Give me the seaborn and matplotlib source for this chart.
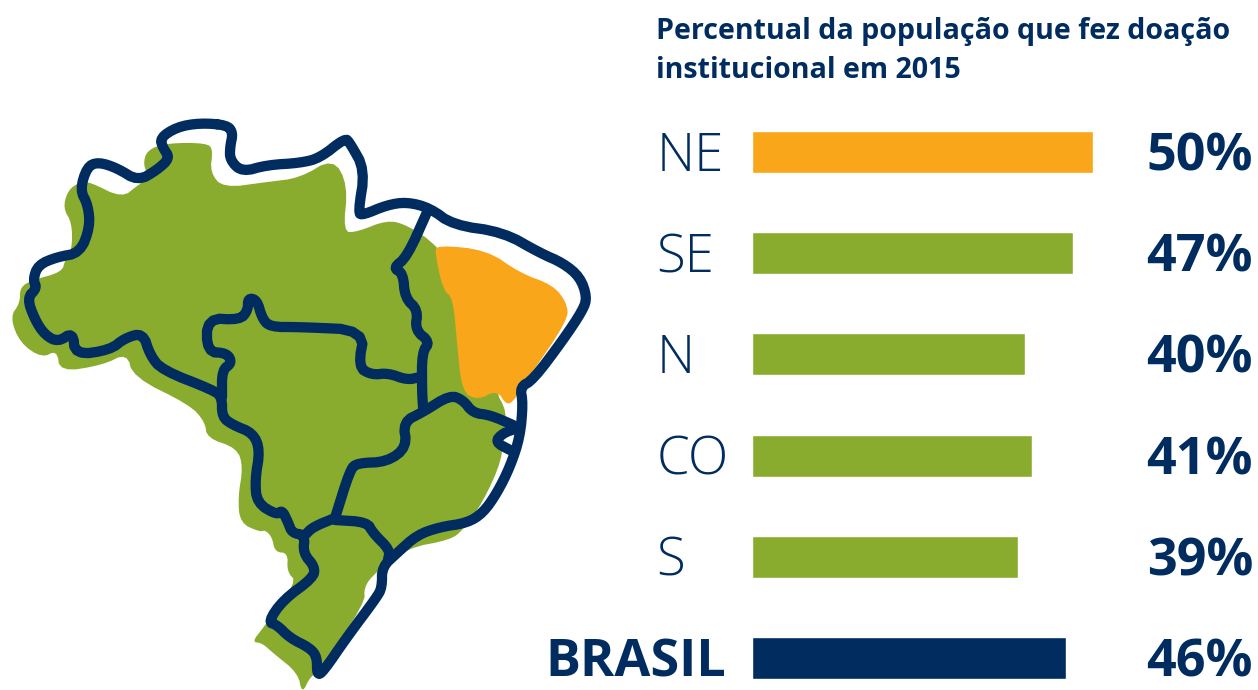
import numpy as np
import seaborn as sns
import matplotlib.pyplot as plt

# dados do grafico
regioes = ['NE', 'SE', 'N', 'CO', 'S', 'BRASIL']
valores = [50, 47, 40, 41, 39, 46]
rotulos = ['50%', '47%', '40%', '41%', '39%', '46%']
titulo = 'Percentual da população que fez doação\ninstitucional em 2015'

AZUL = '#012c5f'
VERDE = '#8aac2e'
LARANJA = '#f9a61b'
cores = [LARANJA, VERDE, VERDE, VERDE, VERDE, AZUL]

# mapa, em pixels da imagem
mapa_verde = [(167,143),(207,143),(213,150),(210,172),(223,188),(267,182),(300,178),(333,158),(348,185),(343,232),
              (357,232),(387,220),(407,225),(437,245),(480,300),(495,390),(507,412),(503,433),(502,460),(483,502),
              (463,530),(450,540),(407,548),(375,573),(364,587),(365,603),(318,673),(310,677),(302,694),(298,673),
              (273,653),(262,643),(252,642),(263,628),(297,582),(287,572),(288,553),(275,552),(272,537),(265,530),
              (260,532),(240,523),(238,497),(243,467),(237,448),(207,438),(205,422),(190,405),(133,377),(127,353),
              (103,365),(60,372),(57,350),(42,358),(20,343),(10,317),(20,303),(20,287),(33,280),(62,272),
              (65,260),(72,250),(72,223),(63,208),(68,190),(80,182),(90,182),(122,198),(138,185),(150,178),
              (143,165),(147,150)]
mapa_laranja = [(437,245),(487,250),(520,273),(553,285),(567,303),(568,320),(527,380),(517,393),(516,398),(507,406),
                (497,390),(478,400),(462,392),(457,343),(453,298),(443,290),(435,253)]
contorno = [(227,125),(200,123),(177,127),(160,138),(163,148),(170,158),(157,170),(138,181),(117,168),(98,162),
            (87,167),(80,190),(88,205),(90,227),(80,253),(57,257),(38,265),(33,280),(37,288),(27,298),
            (35,320),(45,335),(58,342),(73,332),(75,355),(110,350),(125,338),(143,333),(150,355),(162,370),
            (213,390),(222,397),(222,417),(233,425),(253,433),(260,450),(255,480),(257,503),(277,515),(282,510),
            (288,522),(292,533),(305,535),(303,553),(315,567),(313,578),(283,600),(268,622),(277,625),(290,638),
            (310,648),(317,657),(317,675),(323,672),(347,637),(377,597),(382,587),(382,567),(397,553),(417,535),
            (440,527),(467,523),(483,513),(497,493),(510,467),(520,437),(523,403),(520,387),(533,380),(563,340),
            (583,310),(587,297),(580,277),(563,263),(540,253),(503,232),(453,225),(430,208),(407,202),(387,205),
            (363,215),(358,213),(365,170),(350,143),(345,138),(320,158),(300,163),(267,165),(242,172),(230,160),
            (230,147),(233,133),(227,125)]
divisas = [
    [(222,397),(222,370),(232,363),(227,353),(207,352),(207,318),(240,320),(248,310),(248,298),(257,300),
     (262,318),(270,327),(300,327),(365,330),(358,367),(372,375),(388,373),(407,380),(420,377)],
    [(428,210),(407,257),(393,268),(403,273),(405,298),(418,310),(415,330),(430,342),(422,352),(422,390),(423,407)],
    [(335,518),(350,470),(357,463),(387,462),(407,447),(403,422),(423,412),(450,395),(463,400),(473,413),(490,415),(513,425)],
    [(518,428),(503,433),(495,442),(510,450)],
    [(305,535),(313,527),(335,518)],
    [(335,520),(367,522),(373,533),(390,550),(388,560)],
]


def suaviza(pts, fechado=False, n=2):
    # corta os cantos (Chaikin) so para o traco ficar arredondado
    p = np.array(pts, dtype=float)
    for _ in range(n):
        a, b = p[:-1], p[1:]
        novo = np.empty((len(a) * 2, 2))
        novo[0::2] = 0.75 * a + 0.25 * b
        novo[1::2] = 0.25 * a + 0.75 * b
        if fechado:
            p = np.vstack([novo, novo[0]])
        else:
            p = np.vstack([p[0], novo, p[-1]])
    return p


sns.set_theme(style='white')
plt.rcParams['font.family'] = ['Open Sans', 'DejaVu Sans']

fig = plt.figure(figsize=(12.58, 6.9), dpi=100)

# --- mapa ---
ax_mapa = fig.add_axes([0, 0, 1, 1])
ax_mapa.set_xlim(0, 1258)
ax_mapa.set_ylim(690, 0)
ax_mapa.axis('off')

v = suaviza(mapa_verde + mapa_verde[:1], fechado=True, n=2)
ax_mapa.fill(v[:, 0], v[:, 1], color=VERDE, lw=0)
o = suaviza(mapa_laranja + mapa_laranja[:1], fechado=True, n=2)
ax_mapa.fill(o[:, 0], o[:, 1], color=LARANJA, lw=0)
c = suaviza(contorno, fechado=True)
ax_mapa.plot(c[:, 0], c[:, 1], color=AZUL, lw=7.4, solid_joinstyle='round', solid_capstyle='round')
for d in divisas:
    s = suaviza(d)
    ax_mapa.plot(s[:, 0], s[:, 1], color=AZUL, lw=7.4, solid_joinstyle='round', solid_capstyle='round')

ax_mapa.text(656, 51, titulo, fontsize=20.6, fontweight='bold', color=AZUL, va='center', ha='left', linespacing=1.45)

# --- barras ---
L, R, T, B = 751.5, 1093, 101.4, 690
ax = fig.add_axes([L / 1258, (690 - B) / 690, (R - L) / 1258, (B - T) / 690])
ax.patch.set_alpha(0)
sns.barplot(y=regioes, x=valores, hue=regioes, palette=cores, legend=False, width=0.415, saturation=1, ax=ax)
ax.set_xlim(0, 50)
ax.set_ylim(5.316, -0.5)
ax.axis('off')

tr = ax.get_yaxis_transform()
for i, (r, t) in enumerate(zip(regioes, rotulos)):
    if r == 'BRASIL':
        ax.text(-0.073, i + 0.05, r, transform=tr, fontsize=37.5, fontweight='bold', color=AZUL, ha='right', va='center')
    else:
        ax.text(-0.278, i + 0.05, r, transform=tr, fontsize=38, fontweight='light', color=AZUL, ha='left', va='center')
    ax.text(1.157, i + 0.05, t, transform=tr, fontsize=37.5, fontweight='bold', color=AZUL, ha='left', va='center')

fig.savefig('out.png', dpi=100)
